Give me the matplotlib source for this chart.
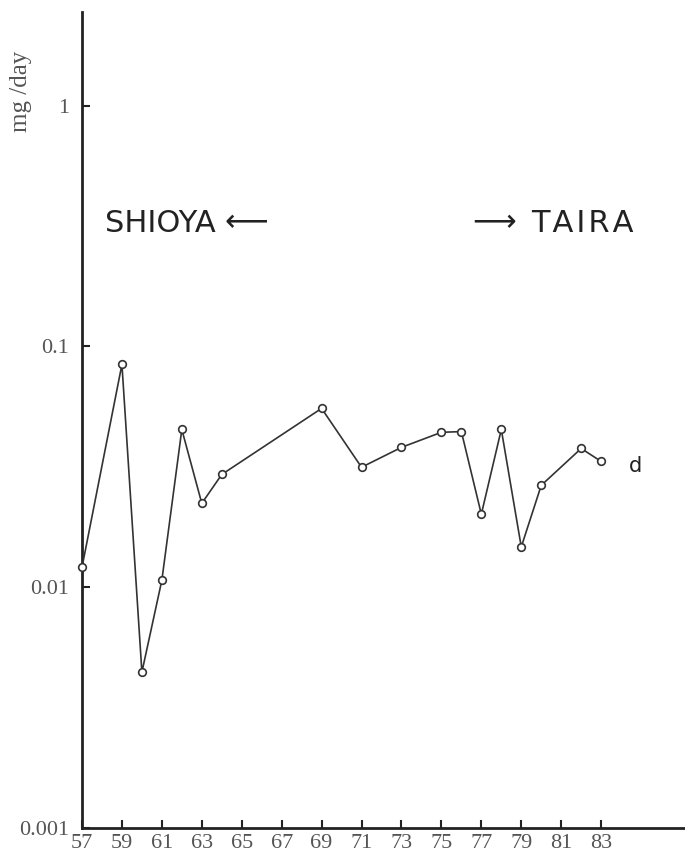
import matplotlib
matplotlib.use("Agg")
import matplotlib.pyplot as plt

years = [57, 59, 60, 61, 62, 63, 64, 69, 71, 73, 75, 76, 77, 78, 79, 80, 82, 83]
values = [0.0121, 0.0842, 0.00444, 0.0107, 0.0452, 0.0223, 0.0294, 0.0553, 0.0315,
          0.0381, 0.0440, 0.0443, 0.0201, 0.0452, 0.0147, 0.0265, 0.0377, 0.0333]
xticks = list(range(57, 84, 2))
yticks = [0.001, 0.01, 0.1, 1]
ytick_labels = ["0.001", "0.01", "0.1", "1"]

fig = plt.figure(figsize=(6.85, 8.56), dpi=100)
ax = fig.add_axes([0.1197, 0.0327, 0.8803, 0.9533])

ax.plot(years, values, color="#333333", lw=1.2, marker="o", ms=5.5,
        mfc="white", mec="#333333", mew=1.2, clip_on=False, zorder=3)

ax.set_yscale("log")
ax.set_ylim(0.001, 2.45)
ax.set_xlim(57, 87.2)

ax.set_xticks(xticks)
ax.set_xticklabels([str(x) for x in xticks], family="Liberation Serif", fontsize=16, color="#555555")
ax.set_yticks(yticks)
ax.set_yticklabels(ytick_labels, family="Liberation Serif", fontsize=16, color="#555555")
ax.minorticks_off()
ax.tick_params(axis="both", direction="in", length=6, width=1.5, color="#222222")
ax.tick_params(axis="x", pad=4)
ax.tick_params(axis="y", pad=9)

for s in ["top", "right"]:
    ax.spines[s].set_visible(False)
for s in ["left", "bottom"]:
    ax.spines[s].set_linewidth(2)
    ax.spines[s].set_color("#222222")

fig.text(0.03, 0.893, "mg /day", rotation=90, ha="center", va="center",
         family="Liberation Serif", fontsize=18, color="#555555")

# site labels
hs = "\u200a"
ax.text(58.15, 0.300, "SHIOYA", fontsize=22, color="#222222", va="baseline")
ax.text(64.15, 0.300, "\u27f5", fontsize=22, color="#222222", va="baseline")
ax.text(76.55, 0.300, "\u27f6", fontsize=22, color="#222222", va="baseline")
ax.text(79.5, 0.300, hs.join("TAIRA"), fontsize=22, color="#222222", va="baseline")
ax.text(84.4, 0.0320, "d", fontsize=15, color="#222222", va="center")

fig.savefig("out.png", dpi=100)
